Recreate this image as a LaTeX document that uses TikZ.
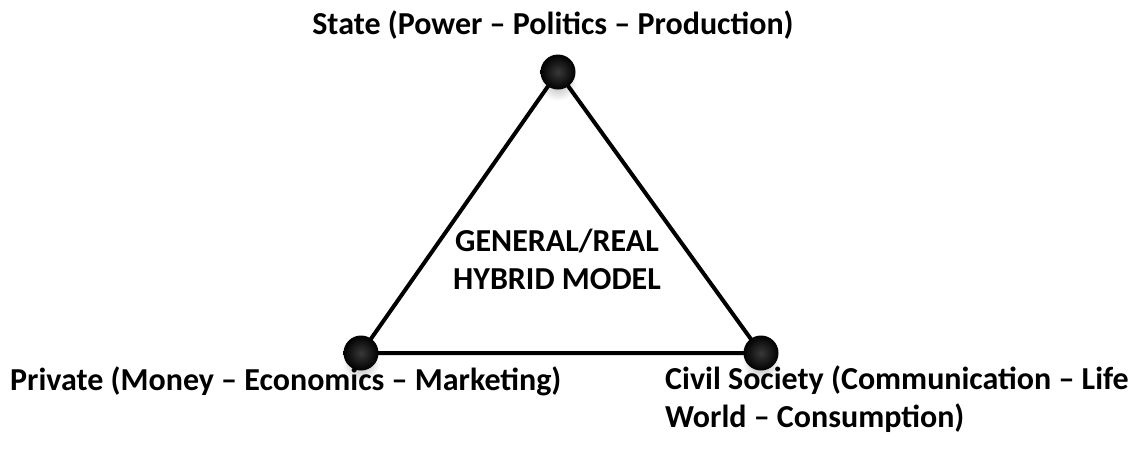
\documentclass[tikz,border=0pt]{standalone}
\usepackage{fontspec}
\setmainfont{Carlito}
\usetikzlibrary{positioning}

\tikzset{
  corner/.style={circle, minimum size=35pt, inner sep=0pt,
    inner color=black!78, outer color=black, draw=none},
  shade/.style={circle, minimum size=38pt, inner sep=0pt,
    inner color=black!30, outer color=white, draw=none},
  side/.style={line width=4pt, black},
  lbl/.style={font=\bfseries\fontsize{32}{38}\selectfont, inner sep=0pt}
}

\begin{document}
\begin{tikzpicture}[x=1pt, y=-1pt]
	\useasboundingbox (0,0) rectangle (1134,451);
	% soft shadows under the balls
	\node[shade] at (558,82) {};
	\node[shade] at (361,363) {};
	\node[shade] at (761,363) {};
	% triangle corners
	\coordinate (s) at (558,72);
	\coordinate (p) at (361,353);
	\coordinate (c) at (761,353);
	\draw[side] (s) -- (p) -- (c) -- cycle;
	\node[corner] (state) at (s) {};
	\node[corner] (private) at (p) {};
	\node[corner] (civil) at (c) {};
	% labels
	\node[lbl] (statelbl) at (553,25) {State (Power -- Politics -- Production)};
	\node[lbl, align=center] (model) at (557,259) {GENERAL/REAL\\HYBRID MODEL};
	\node[lbl, anchor=west] (privatelbl) at (10,381) {Private (Money -- Economics -- Marketing)};
	\node[lbl, anchor=west, align=left] (civillbl) at (665,399) {Civil Society (Communication -- Life\\World -- Consumption)};
\end{tikzpicture}
\end{document}
